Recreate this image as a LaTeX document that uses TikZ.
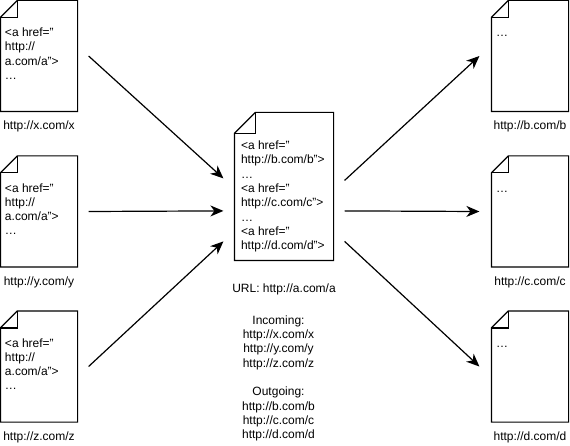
\documentclass[tikz,border=0pt]{standalone}
\usepackage{fontspec}
\setmainfont{Liberation Sans}
\usetikzlibrary{arrows.meta,positioning}

\begin{document}
\begin{tikzpicture}[x=1pt,y=-1pt,>={Stealth[length=13pt,width=11pt,inset=4pt]},
                    line width=1.2pt,font=\fontsize{12}{14.3}\selectfont,
                    page/.style={minimum width=76pt,minimum height=110pt,inner sep=0pt},
                    bigpage/.style={minimum width=98pt,minimum height=147pt,inner sep=0pt},
                    txt/.style={anchor=north west,align=left,inner sep=0pt},
                    lbl/.style={inner sep=0pt,align=center}]

  \useasboundingbox (0,0) rectangle (570,446);

  % pages
  \node[page]    (x) at (39,56)     {};
  \node[page]    (y) at (39,211.5)  {};
  \node[page]    (z) at (39,366.5)  {};
  \node[bigpage] (a) at (284,186.5) {};
  \node[page]    (b) at (530,56)    {};
  \node[page]    (c) at (530,211.5) {};
  \node[page]    (d) at (530,366.5) {};

  \foreach \p/\f in {x/17,y/17,z/17,a/21,b/17,c/17,d/17} {
    \draw ([yshift=-\f pt]\p.north west) -- ([xshift=\f pt]\p.north west)
          -| (\p.south east) -| ([yshift=-\f pt]\p.north west) -- cycle;
    \draw ([xshift=\f pt]\p.north west) |- ([yshift=-\f pt]\p.north west);
  }

  % page contents
  \foreach \p in {x,y,z}
    \node[txt] (\p t) at ([shift={(4pt,-25.5pt)}]\p.north west)
      {\strut<a href="\\http://\\a.com/a">\\\ldots};
  \foreach \p in {b,c,d}
    \node[txt] (\p t) at ([shift={(4pt,-25.5pt)}]\p.north west) {\strut\ldots};
  \node[txt] (at) at ([shift={(6pt,-26.5pt)}]a.north west)
    {\strut<a href="\\http://b.com/b">\\\ldots\\<a href="\\http://c.com/c">\\\ldots\\<a href="\\http://d.com/d">};

  % labels
  \node[lbl] (xl) [below=9pt of x] {http://x.com/x};
  \node[lbl] (yl) [below=9pt of y] {http://y.com/y};
  \node[lbl] (zl) [below=9pt of z] {http://z.com/z};
  \node[lbl] (bl) [below=9pt of b] {http://b.com/b};
  \node[lbl] (cl) [below=9pt of c] {http://c.com/c};
  \node[lbl] (dl) [below=9pt of d] {http://d.com/d};
  \node[lbl] (url)  [below=23pt of a] {URL: http://a.com/a};
  \node[lbl] (info) [below=19pt of url,xshift=-5.5pt]
    {Incoming:\\http://x.com/x\\http://y.com/y\\http://z.com/z\\[14.3pt]
     Outgoing:\\http://b.com/b\\http://c.com/c\\http://d.com/d};

  % links
  \coordinate (in1)  at ([xshift=-11pt,yshift=-66pt]a.north west);
  \coordinate (in2)  at ([xshift=-11pt,yshift=-98.5pt]a.north west);
  \coordinate (in3)  at ([xshift=-11pt,yshift=-129pt]a.north west);
  \coordinate (out1) at ([xshift=11pt,yshift=-68pt]a.north east);
  \coordinate (out2) at ([xshift=11pt,yshift=-98.5pt]a.north east);
  \coordinate (out3) at ([xshift=11pt,yshift=-129pt]a.north east);

  \path[->] ([xshift=11pt]x.east) edge (in1)
            ([xshift=11pt]y.east) edge (in2)
            ([xshift=11pt]z.east) edge (in3)
            (out1) edge ([xshift=-12pt]b.west)
            (out2) edge ([xshift=-12pt]c.west)
            (out3) edge ([xshift=-12pt]d.west);
\end{tikzpicture}
\end{document}
